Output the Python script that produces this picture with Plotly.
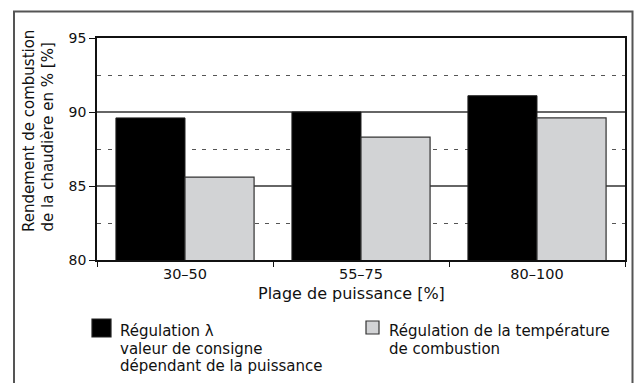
import plotly.graph_objects as go

# Power ranges and combustion efficiency of the boiler (%)
categories = ["30–50", "55–75", "80–100"]
lambda_control = [89.6, 90.0, 91.1]
temperature_control = [85.6, 88.3, 89.6]

series_labels = [
    ["Régulation λ", "valeur de consigne", "dépendant de la puissance"],
    ["Régulation de la température", "de combustion"],
]
y_title_lines = ["Rendement de combustion", "de la chaudière en % [%]"]
x_title = "Plage de puissance [%]"
y_ticks = [80, 85, 90, 95]

series_colors = ["#000000", "#d2d3d5"]

FONT = "DejaVu Sans, Verdana, sans-serif"
INK = "#111111"
W, H = 636, 383
L, R, T, B = 97, 11, 38, 123
PW, PH = W - L - R, H - T - B


def px_x(px):
    return (px - L) / PW


def px_y(py):
    return (H - B - py) / PH


fig = go.Figure()
fig.add_trace(go.Bar(
    x=categories, y=lambda_control, name=series_labels[0][0],
    marker=dict(color=series_colors[0], line=dict(color="#222222", width=1)),
))
fig.add_trace(go.Bar(
    x=categories, y=temperature_control, name=series_labels[1][0],
    marker=dict(color=series_colors[1], line=dict(color="#333333", width=1.2)),
))

# outer frame (left, top and right edges)
fig.add_shape(
    type="path", xref="paper", yref="paper",
    path=f"M {px_x(14)},{px_y(400)} L {px_x(14)},{px_y(11.5)} "
         f"L {px_x(632.5)},{px_y(11.5)} L {px_x(632.5)},{px_y(400)}",
    line=dict(color="#555555", width=2),
)

annotations = []

# y-axis title: two rotated lines, bottom-aligned
for cx, line in zip([29, 47], y_title_lines):
    annotations.append(dict(
        text=line, textangle=-90, xref="paper", yref="paper",
        x=px_x(cx), y=px_y(234), xanchor="center", yanchor="bottom",
        showarrow=False, font=dict(size=15, color=INK),
    ))

# x-axis title
annotations.append(dict(
    text=x_title, xref="paper", yref="paper", x=px_x(351), y=px_y(293),
    xanchor="center", yanchor="middle", showarrow=False,
    font=dict(size=16, color=INK),
))

# legend: swatches plus tightly spaced text lines
legend_layout = [
    dict(swatch=(92, 319, 111, 337), text_x=118, outline="#222222"),
    dict(swatch=(366, 321, 379, 334), text_x=387, outline="#333333"),
]
LINE_STEP = 17.5
FIRST_BASELINE = 336
for spec, color, lines in zip(legend_layout, series_colors, series_labels):
    x0, y0, x1, y1 = spec["swatch"]
    fig.add_shape(
        type="rect", xref="paper", yref="paper",
        x0=px_x(x0), x1=px_x(x1), y0=px_y(y1), y1=px_y(y0),
        fillcolor=color, line=dict(color=spec["outline"], width=1.2),
    )
    for i, line in enumerate(lines):
        baseline = FIRST_BASELINE + i * LINE_STEP
        annotations.append(dict(
            text=line, xref="paper", yref="paper",
            x=px_x(spec["text_x"]), y=px_y(baseline - 5),
            xanchor="left", yanchor="middle", showarrow=False,
            font=dict(size=15, color=INK),
        ))

fig.update_layout(
    width=W, height=H,
    margin=dict(l=L, r=R, t=T, b=B, autoexpand=False),
    paper_bgcolor="white", plot_bgcolor="white",
    font=dict(family=FONT, size=14, color=INK),
    barmode="group", bargap=0.215, bargroupgap=0,
    showlegend=False,
    annotations=annotations,
    xaxis=dict(
        type="category", showline=True, linecolor=INK, linewidth=1.5,
        mirror=True, ticks="outside", ticklen=5, tickcolor=INK,
        tickson="boundaries", showgrid=False, automargin=False,
        tickfont=dict(size=14.5),
    ),
    yaxis=dict(
        range=[80, 95], tickvals=y_ticks, showline=True, linecolor=INK,
        linewidth=1.5, mirror=True, ticks="outside", ticklen=6,
        tickcolor=INK, showgrid=True, gridcolor="#666666", gridwidth=1.5,
        zeroline=False, automargin=False,
        minor=dict(dtick=2.5, tick0=80, showgrid=True, gridcolor="#555555",
                   gridwidth=1, griddash="4px,6.5px", ticks=""),
        tickfont=dict(size=14),
    ),
)

fig.write_html("out.html")
